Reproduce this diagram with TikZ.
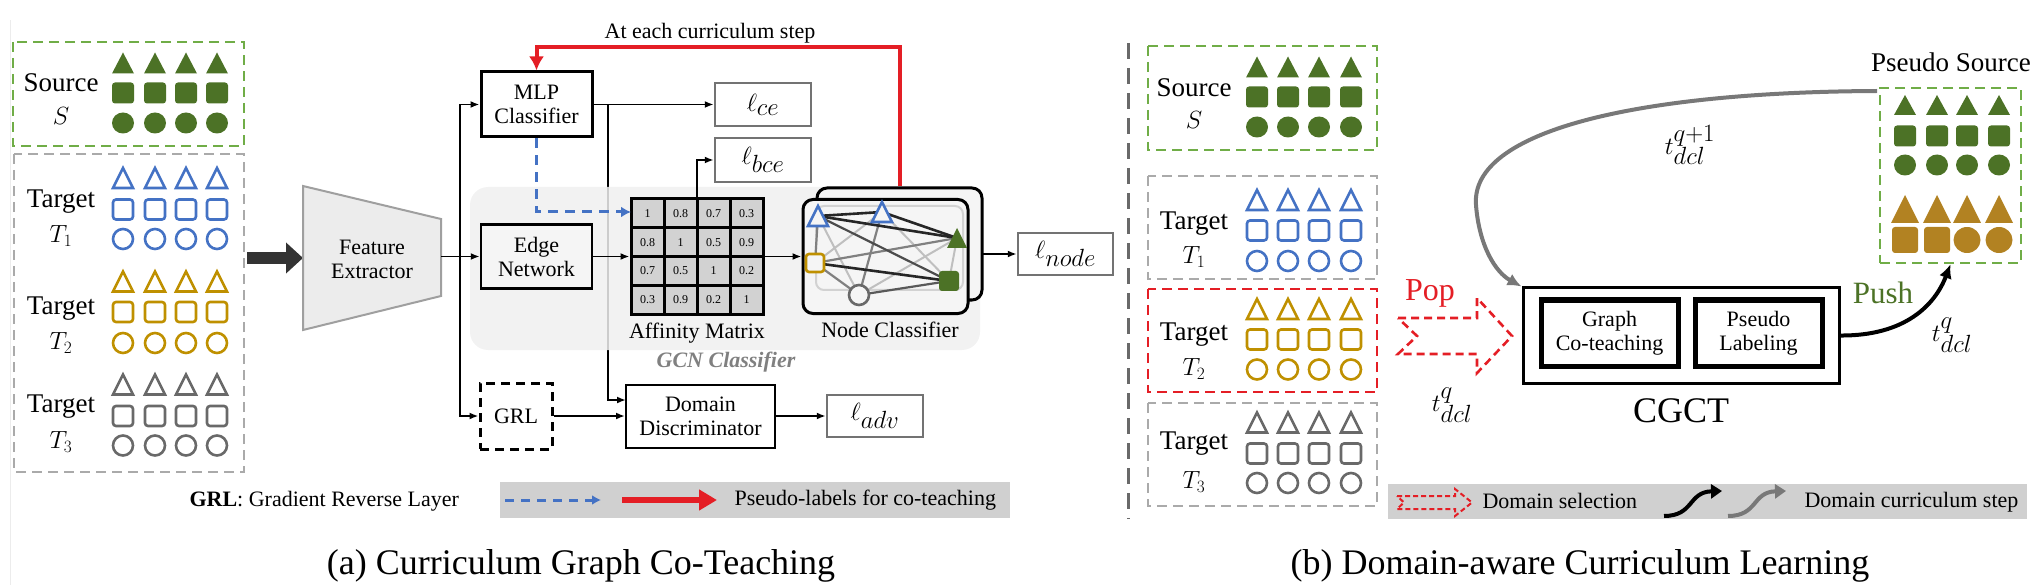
\documentclass[tikz,border=0pt]{standalone}
\usepackage{fontspec}
\setmainfont{Liberation Serif}
\usetikzlibrary{arrows.meta}
\DeclareMathSizes{30}{30}{23}{18}
\DeclareMathSizes{34}{34}{26}{20}
\definecolor{cG}{RGB}{76,114,38}
\definecolor{cGl}{RGB}{112,173,71}
\definecolor{cB}{RGB}{68,114,196}
\definecolor{cY}{RGB}{191,144,0}
\definecolor{cYf}{RGB}{178,130,34}
\definecolor{cK}{RGB}{105,105,105}
\definecolor{cR}{RGB}{228,30,37}
\definecolor{cBox}{RGB}{115,115,115}
\definecolor{cTg}{RGB}{170,170,170}
\definecolor{cBar}{RGB}{208,208,208}
\newcommand\shTri[5]{\path[#5] (#1-#3,#2+#4) -- (#1+#3,#2+#4) -- (#1,#2-#4) -- cycle;}
\newcommand\shSq[5]{\path[#5,rounded corners=3pt] (#1-#3,#2-#4) rectangle (#1+#3,#2+#4);}
\newcommand\shCi[5]{\path[#5] (#1,#2) ellipse [x radius=#3pt, y radius=#4pt];}
\newcommand\shBlock[5]{\foreach \cx in {#1} {\shTri{\cx}{#2}{11}{10.5}{#5}\shSq{\cx}{#3}{11}{10.5}{#5}\shCi{\cx}{#4}{11}{10.5}{#5}}}
\begin{document}
\begin{tikzpicture}[x=1pt,y=-1pt,
  lab/.style={font=\fontsize{22}{24}\selectfont,align=center},
  bigtxt/.style={font=\fontsize{27}{30}\selectfont,align=center},
  mathtxt/.style={font=\fontsize{30}{32}\selectfont},
  tmath/.style={font=\fontsize{34}{36}\selectfont},
  arr/.style={line width=1.8pt,-{Latex[length=9pt,width=7pt]}},
  blk/.style={draw=black,line width=3pt,inner sep=0pt,lab},
  lossbox/.style={draw=cBox,line width=2.5pt,inner sep=0pt,minimum width=96pt,mathtxt},
  card/.style={draw=black,line width=3pt,rounded corners=10pt,fill=gray!8,inner sep=0pt},
  dbox/.style={line width=2.5pt,dash pattern=on 10pt off 6pt},
  fG/.style={fill=cG},
  fY/.style={fill=cYf},
  oB/.style={draw=cB,line width=2.6pt},
  oY/.style={draw=cY,line width=2.6pt},
  oK/.style={draw=cK,line width=2.6pt},
  edk/.style={draw=black!85,line width=2.6pt},
  emd/.style={draw=black!50,line width=2.2pt},
  elt/.style={draw=black!25,line width=2pt}
]
\useasboundingbox (0,0) rectangle (2034,585);
\draw[gray!15,line width=1pt] (10,20) -- (10,585);

% ---------------- left panel: data ----------------
\draw[cGl,dbox] (13,42) rectangle (244,146);
\draw[cTg,dbox] (14,154) rectangle (244,472);
\node[bigtxt] (srcL) at (61,83) {Source};
\node[bigtxt] (srcLs) at (61,116) {$S$};
\node[bigtxt] (t1L) at (61,202) {Target};
\node[bigtxt] (t1Ls) at (61,236) {$T_1$};
\node[bigtxt] (t2L) at (61,309) {Target};
\node[bigtxt] (t2Ls) at (61,343) {$T_2$};
\node[bigtxt] (t3L) at (61,407) {Target};
\node[bigtxt] (t3Ls) at (61,442) {$T_3$};
\shBlock{123,155,186,217}{63}{93}{123}{fG}
\foreach \cx in {123,155,186,217} {\shTri{\cx}{178}{10}{10}{oB}\shSq{\cx}{209.5}{10}{10}{oB}\shCi{\cx}{239}{10}{10}{oB}}
\foreach \cx in {123,155,186,217} {\shTri{\cx}{281.5}{10}{10}{oY}\shSq{\cx}{312}{10}{10}{oY}\shCi{\cx}{343}{10}{10}{oY}}
\foreach \cx in {123,155,186,217} {\shTri{\cx}{384.5}{10}{10}{oK}\shSq{\cx}{416}{10}{10}{oK}\shCi{\cx}{445.5}{10}{10}{oK}}

% input arrow and feature extractor
\coordinate (inA) at (247,258);
\coordinate (inB) at (303,258);
\draw[line width=12pt,draw=black!80,-{Triangle[length=17pt,width=30pt]}] (inA) -- (inB);
\draw[fill=gray!15,draw=gray!75,line width=2pt] (303,186) -- (441,219) -- (441,296) -- (303,330) -- cycle;
\node[lab] (fe) at (372,259) {Feature\\Extractor};

% boxes
\node[blk,minimum width=111pt,minimum height=65pt] (mlp) at (536.5,104.5) {MLP\\Classifier};
\node[lossbox,minimum height=43pt] (lce) at (763,104.5) {$\ell_{ce}$};
\node[lossbox,minimum height=44pt] (lbce) at (763,160) {$\ell_{bce}$};
\node[blk,dash pattern=on 9pt off 6pt,minimum width=72pt,minimum height=66pt] (grl) at (516,416) {GRL};
\node[blk,line width=2pt,minimum width=149pt,minimum height=63pt] (dd) at (700.5,416) {Domain\\Discriminator};
\node[lossbox,minimum height=42pt] (ladv) at (875,416) {$\ell_{adv}$};

% branch line from MLP output to domain discriminator (behind GCN region)
\coordinate (br) at (608,104.5);
\coordinate (ddin) at (626,400);
\draw[arr] (br) |- (ddin);

% GCN region
\fill[gray!12,fill opacity=0.85,rounded corners=18pt] (470,187) rectangle (980,350);
\node[font=\fontsize{22}{24}\selectfont\bfseries\itshape,text=gray] (gcn) at (726,362) {GCN Classifier};

\node[blk,line width=2.5pt,fill=gray!8,minimum width=111pt,minimum height=64pt] (edge) at (536.5,256.5) {Edge\\Network};

% affinity matrix
\node[draw=black,line width=3pt,fill=gray!35,minimum width=132pt,minimum height=115pt,inner sep=0pt] (mat) at (697,256.5) {};
\foreach \gx in {664,697,730} {\draw[line width=3pt] (\gx,199) -- (\gx,314);}
\foreach \gy in {227.75,256.5,285.25} {\draw[line width=3pt] (631,\gy) -- (763,\gy);}
\foreach \v [count=\i from 0] in {1,0.8,0.7,0.3,0.8,1,0.5,0.9,0.7,0.5,1,0.2,0.3,0.9,0.2,1} {
  \pgfmathsetmacro\cxx{647.5+33*mod(\i,4)}
  \pgfmathsetmacro\cyy{213.4+28.75*floor(\i/4)}
  \node[font=\fontsize{12}{13}\selectfont,inner sep=0pt] at (\cxx,\cyy) {\v};
}
\node[lab] (amlab) at (697,333) {Affinity Matrix};

% node classifier
\node[card,minimum width=165pt,minimum height=112pt] (ncb) at (899.5,244) {};
\node[card,minimum width=165pt,minimum height=114pt] (nc) at (885.5,256.5) {};
\draw[gray!35,line width=2pt,rounded corners=8pt] (816,206) rectangle (963,290);
\coordinate (gA) at (818,216);
\coordinate (gB) at (882,212);
\coordinate (gT) at (957,238);
\coordinate (gS) at (815,263);
\coordinate (gQ) at (949,281);
\coordinate (gC) at (859,295);
\draw[elt] (gA) -- (gC);
\draw[elt] (gB) -- (gS);
\draw[elt] (gB) -- (gQ);
\draw[elt] (gC) -- (gT);
\draw[elt] (gT) -- (gQ);
\draw[emd] (gA) -- (gS);
\draw[emd] (gB) -- (gC);
\draw[emd] (gS) -- (gT);
\draw[emd] (gS) -- (gC);
\draw[emd,draw=black!65] (gC) -- (gQ);
\draw[emd,draw=black!70] (gA) -- (gQ);
\draw[edk] (gA) -- (gB);
\draw[edk] (gB) -- (gT);
\draw[edk] (gA) -- (gT);
\draw[edk] (gS) -- (gQ);
\shTri{818}{216}{10}{10}{oB,fill=gray!8}
\shTri{882}{212}{10}{10}{oB,fill=gray!8}
\shTri{957}{238}{10}{10}{fG}
\shSq{815}{263}{9}{9}{oY,fill=gray!8}
\shSq{949}{281}{10}{10}{fG}
\shCi{859}{295}{10}{10}{oK,fill=gray!8}
\node[lab] (nclab) at (890,330) {Node Classifier};
\node[lossbox,minimum width=95pt,minimum height=42pt] (lnode) at (1065.5,254) {$\ell_{node}$};

% connectors (a)
\coordinate (feout) at (441,256.5);
\coordinate (bus) at (460,256.5);
\draw[line width=1.8pt] (feout) -- (bus);
\draw[arr] (bus) |- (mlp.west);
\draw[arr] (bus) -- (edge.west);
\draw[arr] (bus) |- (grl.west);
\draw[arr] (mlp.east) -- (lce.west);
\draw[arr] (edge.east) -- (mat.west);
\draw[arr] (mat.north) |- (lbce.west);
\draw[arr] (mat.east) -- (nc.west);
\coordinate (ncout) at (982,254);
\draw[arr] (ncout) -- (lnode.west);
\draw[arr] (grl.east) -- (dd.west);
\draw[arr] (dd.east) -- (ladv.west);
\coordinate (mtin) at (631,212);
\draw[cB,line width=3pt,dash pattern=on 10pt off 7pt,-{Latex[length=10pt,width=11pt]}] (mlp.south) |- (mtin);
\draw[cR,line width=4pt,-{Latex[length=14pt,width=15pt]}] (ncb.north) -- ++(0,-139) -| (mlp.north);
\node[lab] (step) at (710,33) {At each curriculum step};

% legend (a)
\fill[cBar] (500,482) rectangle (1010,518);
\node[lab,anchor=west] (grlleg) at (186,501) {\textbf{GRL}: Gradient Reverse Layer};
\coordinate (lbA) at (505,500);
\coordinate (lbB) at (601,500);
\draw[cB,line width=3pt,dash pattern=on 9pt off 7pt,-{Latex[length=9pt,width=10pt]}] (lbA) -- (lbB);
\coordinate (lrA) at (622,500);
\coordinate (lrB) at (717,500);
\draw[cR,line width=6pt,-{Triangle[length=18pt,width=20pt]}] (lrA) -- (lrB);
\node[lab,anchor=west] (plleg) at (731,500) {Pseudo-labels for co-teaching};
\node[font=\fontsize{36}{40}\selectfont] (capa) at (581,566) {(a) Curriculum Graph Co-Teaching};

% ---------------- right panel ----------------
\draw[cK,line width=3pt,dash pattern=on 16pt off 9pt] (1128,43) -- (1128,519);
\draw[cGl,dbox] (1148,46) rectangle (1377,150);
\draw[cTg,dbox] (1148,176) rectangle (1377,279);
\draw[cR,dbox] (1148,289) rectangle (1377,392);
\draw[cTg,dbox] (1148,403) rectangle (1377,506);
\node[bigtxt] (srcR) at (1194,88) {Source};
\node[bigtxt] (srcRs) at (1194,120) {$S$};
\node[bigtxt] (t1R) at (1194,224) {Target};
\node[bigtxt] (t1Rs) at (1194,257) {$T_1$};
\node[bigtxt] (t2R) at (1194,335) {Target};
\node[bigtxt] (t2Rs) at (1194,369) {$T_2$};
\node[bigtxt] (t3R) at (1194,444) {Target};
\node[bigtxt] (t3Rs) at (1194,482) {$T_3$};
\shBlock{1257,1288,1319,1351}{67}{97}{127}{fG}
\foreach \cx in {1257,1288,1319,1351} {\shTri{\cx}{200}{10}{10}{oB}\shSq{\cx}{230.5}{10}{10}{oB}\shCi{\cx}{261}{10}{10}{oB}}
\foreach \cx in {1257,1288,1319,1351} {\shTri{\cx}{309}{10}{10}{oY}\shSq{\cx}{339.5}{10}{10}{oY}\shCi{\cx}{369.5}{10}{10}{oY}}
\foreach \cx in {1257,1288,1319,1351} {\shTri{\cx}{422.5}{10}{10}{oK}\shSq{\cx}{453.5}{10}{10}{oK}\shCi{\cx}{483}{10}{10}{oK}}

% pop arrow
\draw[cR,line width=2.6pt,dash pattern=on 8pt off 5pt] (1398,318) -- (1477,318) -- (1477,298) -- (1512,336) -- (1477,373) -- (1477,354) -- (1398,354) -- (1417,336) -- cycle;
\node[font=\fontsize{32}{34}\selectfont,text=cR] (pop) at (1430,293) {Pop};
\node[tmath] (tq1) at (1452,405) {$t^{q}_{dcl}$};

% CGCT
\node[draw=black,line width=3pt,minimum width=316pt,minimum height=95pt,inner sep=0pt] (cgct) at (1681,335.5) {};
\node[blk,line width=5pt,minimum width=137pt,minimum height=66pt] (gc) at (1609.5,333) {Graph\\Co-teaching};
\node[blk,line width=5pt,minimum width=127pt,minimum height=66pt] (pl) at (1758.5,333) {Pseudo\\Labeling};
\node[font=\fontsize{36}{40}\selectfont] (cgctlab) at (1681,411) {CGCT};

% pseudo source
\node[draw=cGl,dbox,minimum width=141pt,minimum height=175pt,inner sep=0pt] (ps) at (1950.5,175.5) {};
\node[bigtxt] (pslab) at (1951,62) {Pseudo Source};
\foreach \cx in {1905,1937,1967,1999} {\shTri{\cx}{105}{11}{10}{fG}\shSq{\cx}{136}{11}{10.5}{fG}\shCi{\cx}{165}{11}{10.5}{fG}\shTri{\cx}{209}{14}{14}{fY}}
\shSq{1905}{240}{13}{13}{fY}
\shSq{1937}{240}{13}{13}{fY}
\shCi{1967}{240}{13.5}{13}{fY}
\shCi{1999}{240}{13.5}{13}{fY}

\coordinate (psin) at (1877,91);
\draw[cK!90,line width=4pt,-{Latex[length=14pt,width=13pt]}] (psin) .. controls (1640,92) and (1470,130) .. (1476,205) .. controls (1479,245) and (1495,272) .. (cgct.north west);
\node[tmath] (tq2) at (1690,145) {$t^{q+1}_{dcl}$};
\draw[black,line width=4pt,-{Latex[length=14pt,width=13pt]}] (cgct.east) .. controls (1905,336) and (1935,305) .. (ps.south);
\node[font=\fontsize{31}{34}\selectfont,text=cG] (push) at (1883,293) {Push};
\node[tmath] (tq3) at (1952,335) {$t^{q}_{dcl}$};

% legend (b)
\fill[cBar] (1388,484) rectangle (2027,519);
\draw[cR,line width=2pt,dash pattern=on 5pt off 3pt] (1397,496) -- (1455,496) -- (1455,489) -- (1472,502.5) -- (1455,516) -- (1455,509) -- (1397,509) -- (1404,502.5) -- cycle;
\node[lab,anchor=west] (dsleg) at (1479,501) {Domain selection};
\draw[black,line width=4pt,-{Triangle[length=11pt,width=14pt]}] (1664,516) .. controls (1694,516) and (1688,492) .. (1722,491);
\draw[cK!90,line width=4pt,-{Triangle[length=11pt,width=14pt]}] (1728,516) .. controls (1758,516) and (1752,492) .. (1786,491);
\node[lab,anchor=west] (dcleg) at (1801,502) {Domain curriculum step};
\node[font=\fontsize{36}{40}\selectfont] (capb) at (1580,566) {(b) Domain-aware Curriculum Learning};
\end{tikzpicture}
\end{document}
